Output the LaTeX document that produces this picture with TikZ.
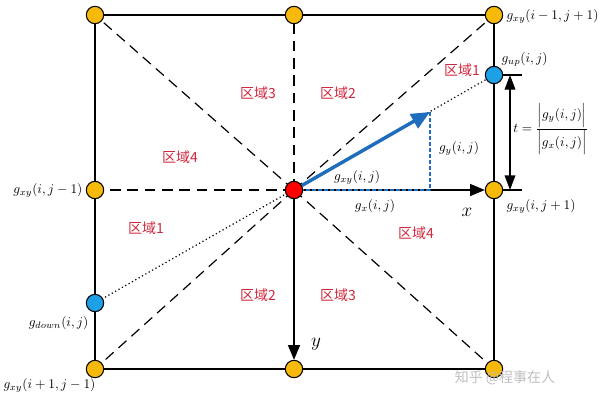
\documentclass[tikz,border=0pt]{standalone}
\usepackage{fontspec}
\usepackage{amsmath}
\newfontfamily\cjk{Noto Sans CJK SC}
\usetikzlibrary{arrows.meta}
\definecolor{gold}{HTML}{F7BA0B}
\definecolor{cblue}{HTML}{1EA0E6}
\definecolor{ablue}{HTML}{1F6EBE}
\definecolor{rlab}{HTML}{D0283C}
\begin{document}
\begin{tikzpicture}[x=0.75pt,y=-0.75pt,
  pt/.style={circle,draw=black,line width=0.8pt,inner sep=0pt,minimum size=13pt},
  gpt/.style={pt,fill=gold},
  bpt/.style={pt,fill=cblue},
  rpt/.style={pt,fill=red},
  edge/.style={line width=1pt,black},
  dline/.style={line width=0.9pt,dash pattern=on 8pt off 5pt},
  reg/.style={text=rlab,font=\cjk\fontsize{10.5}{12}\selectfont},
  lab/.style={font=\fontsize{10}{12}\selectfont,inner sep=1pt},
  tip/.style={-{Triangle[length=11pt,width=9pt]}}
]
\useasboundingbox (0,0) rectangle (600,400);
% positions
\coordinate (ptl) at (95,15);
\coordinate (ptm) at (294,15);
\coordinate (ptr) at (494,15);
\coordinate (pml) at (95,190);
\coordinate (pc) at (294,190);
\coordinate (pmr) at (494,190);
\coordinate (pbl) at (95,369);
\coordinate (pbm) at (294,369);
\coordinate (pbr) at (494,369);
\coordinate (pup) at (494,75);
\coordinate (pdown) at (95,303);
\coordinate (tipb) at (430,112);
\coordinate (foot) at (430,190);
% frame
\draw[edge] (ptl) -- (ptr) -- (pbr) -- (pbl) -- cycle;
% dashed lines
\draw[dline] (pc) -- (ptl);
\draw[dline] (pc) -- (ptr);
\draw[dline] (pc) -- (pbl);
\draw[dline] (pc) -- (pbr);
\draw[dline] (pc) -- (ptm);
\draw[dline] (pc) -- (pml);
% dotted line
\draw[line width=0.9pt,dotted] (pdown) -- (pup);
% nodes
\node[gpt] (tl) at (ptl) {};
\node[gpt] (tm) at (ptm) {};
\node[gpt] (tr) at (ptr) {};
\node[gpt] (ml) at (pml) {};
\node[gpt] (mr) at (pmr) {};
\node[gpt] (bl) at (pbl) {};
\node[gpt] (bm) at (pbm) {};
\node[gpt] (br) at (pbr) {};
\node[bpt] (up) at (pup) {};
\node[bpt] (down) at (pdown) {};
% axes
\draw[edge,tip] (pc) -- (mr);
\draw[edge,tip] (pc) -- (bm);
% blue component lines
\draw[ablue,line width=2pt,dash pattern=on 3pt off 1.5pt] (pc) -- (foot) -- (tipb);
\node[rpt] (c) at (pc) {};
% gradient vector
\draw[ablue,line width=2.6pt,-{Triangle[length=14pt,width=12pt]}] (c) -- (tipb);
% measurement
\coordinate (m1) at (503,75);
\coordinate (m1e) at (522,75);
\coordinate (m2) at (503,190);
\coordinate (m2e) at (522,190);
\draw[line width=0.8pt] (m1) -- (m1e);
\draw[line width=0.8pt] (m2) -- (m2e);
\coordinate (a1) at (510,75);
\coordinate (a2) at (510,190);
\draw[line width=1pt,{Triangle[length=11pt,width=8pt]}-{Triangle[length=11pt,width=8pt]}] (a1) -- (a2);
\node[lab,anchor=west,inner sep=0pt] (tlab) at (513,129) {$t=\dfrac{\Bigl|g_y(i,j)\Bigr|}{\Bigl|g_x(i,j)\Bigr|}$};
% labels
\node[lab,anchor=west] (l1) at (505,16) {$g_{xy}(i-1,j+1)$};
\node[lab,anchor=west] (l2) at (500,59) {$g_{up}(i,j)$};
\node[lab,anchor=west] (l3) at (505,206) {$g_{xy}(i,j+1)$};
\node[lab,anchor=east] (l4) at (84,190) {$g_{xy}(i,j-1)$};
\node[lab,anchor=east] (l5) at (90,323) {$g_{down}(i,j)$};
\node[lab,anchor=east] (l6) at (97,385) {$g_{xy}(i+1,j-1)$};
\node[lab] (l7) at (357,177) {$g_{xy}(i,j)$};
\node[lab] (l8) at (375,206) {$g_{x}(i,j)$};
\node[lab] (l9) at (459,148) {$g_{y}(i,j)$};
\node[font=\Large] (lx) at (467,212) {$x$};
\node[font=\Large] (ly) at (316,344) {$y$};
% regions
\node[reg] (r1a) at (462,70) {区域1};
\node[reg] (r2a) at (338,93) {区域2};
\node[reg] (r3a) at (258,93) {区域3};
\node[reg] (r4a) at (180,157) {区域4};
\node[reg] (r1b) at (146,228) {区域1};
\node[reg] (r4b) at (416,233) {区域4};
\node[reg] (r2b) at (258,295) {区域2};
\node[reg] (r3b) at (338,295) {区域3};
% watermark
\node[text=black!25,font=\cjk\fontsize{10.5}{12}\selectfont] (wm) at (505,378) {知乎 @程事在人};
\end{tikzpicture}
\end{document}
